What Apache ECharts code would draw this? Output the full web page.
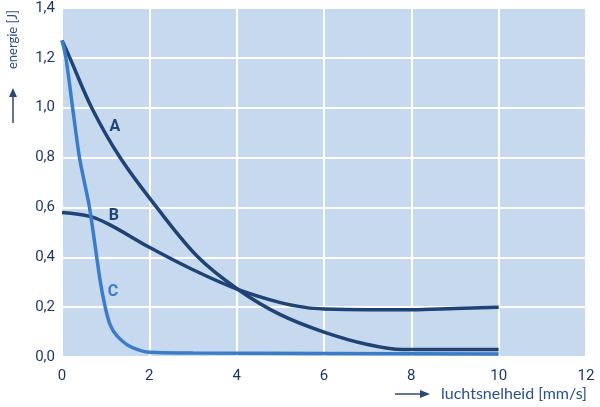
<!DOCTYPE html>
<html><head><meta charset="utf-8">
<script src="https://cdn.jsdelivr.net/npm/echarts@6/dist/echarts.min.js"></script>
<style>html,body{margin:0;padding:0;background:#fff}#c{width:600px;height:407px}</style>
</head><body><div id="c"></div>
<script>
// Data (x = luchtsnelheid [mm/s], y = energie [J])
const xA = [0, 0.18, 0.68, 1.33, 2.17, 3.12, 4.04, 5, 6, 7, 7.8, 9, 10];
const yA = [1.27, 1.2, 1.0, 0.8, 0.6, 0.4, 0.27, 0.17, 0.10, 0.05, 0.03, 0.03, 0.03];
const xB = [0, 0.64, 1.1, 2, 3, 4.04, 5, 5.6, 6, 7, 8, 9, 10];
const yB = [0.58, 0.564, 0.53, 0.44, 0.35, 0.27, 0.218, 0.198, 0.193, 0.19, 0.19, 0.195, 0.20];
const xC = [0, 0.09, 0.4, 0.63, 0.87, 0.99, 1.1, 1.26, 1.56, 1.95, 3, 6, 10];
const yC = [1.27, 1.2, 0.8, 0.6, 0.31, 0.2, 0.13, 0.085, 0.042, 0.02, 0.016, 0.014, 0.012];
const curveNames = ['A', 'B', 'C'];
const labelPos = [[1.21, 0.924], [1.19, 0.567], [1.17, 0.262]];
const xTicks = [0, 2, 4, 6, 8, 10, 12];
const yTicks = [0, 0.2, 0.4, 0.6, 0.8, 1.0, 1.2, 1.4];

const dark = '#1d4474', light = '#3a7cc8', txt = '#1b355c';
const font = "'Roboto',sans-serif";
const zip = (xs, ys) => xs.map((x, i) => [x, ys[i]]);
const cols = [dark, dark, light];
const smooths = [0.35, 0.35, 0.25];
const data = [zip(xA, yA), zip(xB, yB), zip(xC, yC)];

const chart = echarts.init(document.getElementById('c'), null, {renderer: 'canvas'});
chart.setOption({
  animation: false,
  grid: {left: 62, right: 14, top: 8, bottom: 50, show: true, backgroundColor: '#c6d9ef', borderWidth: 0},
  xAxis: {
    type: 'value', min: xTicks[0], max: xTicks[xTicks.length - 1], interval: 2,
    axisLine: {show: false}, axisTick: {show: false},
    axisLabel: {color: txt, fontSize: 15, fontFamily: font, margin: 12},
    splitLine: {show: true, lineStyle: {color: '#ffffff', width: 2}}
  },
  yAxis: {
    type: 'value', min: yTicks[0], max: yTicks[yTicks.length - 1], interval: 0.2,
    axisLine: {show: false}, axisTick: {show: false},
    axisLabel: {color: txt, fontSize: 15, fontFamily: font, margin: 7,
      formatter: v => v.toFixed(1).replace('.', ',')},
    splitLine: {show: true, lineStyle: {color: '#ffffff', width: 2}}
  },
  series: curveNames.map((n, i) => ({
    type: 'line', name: n, data: data[i], showSymbol: false, symbol: 'none',
    smooth: smooths[i],
    lineStyle: {color: cols[i], width: 3.5},
    markPoint: {
      symbol: 'circle', symbolSize: 1, itemStyle: {color: 'rgba(0,0,0,0)'},
      label: {show: true, position: 'inside', formatter: n, color: cols[i], fontSize: 16,
        fontWeight: 'bold', fontFamily: font},
      data: [{coord: labelPos[i]}]
    }
  })),
  graphic: [
    {type: 'text', rotation: Math.PI / 2, x: 6, y: 10,
      style: {text: 'energie [J]', fill: '#2a5189', font: "13px 'Lato','Open Sans',sans-serif",
        textAlign: 'right', textVerticalAlign: 'top'}},
    {type: 'line', shape: {x1: 13, y1: 123, x2: 13, y2: 95}, style: {stroke: '#2b4a72', lineWidth: 1.5}},
    {type: 'polygon', shape: {points: [[13, 88], [9, 97], [17, 97]]}, style: {fill: '#2b4a72'}},
    {type: 'text', x: 441, y: 394,
      style: {text: 'luchtsnelheid [mm/s]', fill: '#2a5189', font: "16px 'Lato','Open Sans',sans-serif",
        textAlign: 'left', textVerticalAlign: 'middle'}},
    {type: 'line', shape: {x1: 395, y1: 394, x2: 422, y2: 394}, style: {stroke: '#2b4a72', lineWidth: 1.5}},
    {type: 'polygon', shape: {points: [[430, 394], [420, 390], [420, 398]]}, style: {fill: '#2b4a72'}}
  ]
});
</script></body></html>
